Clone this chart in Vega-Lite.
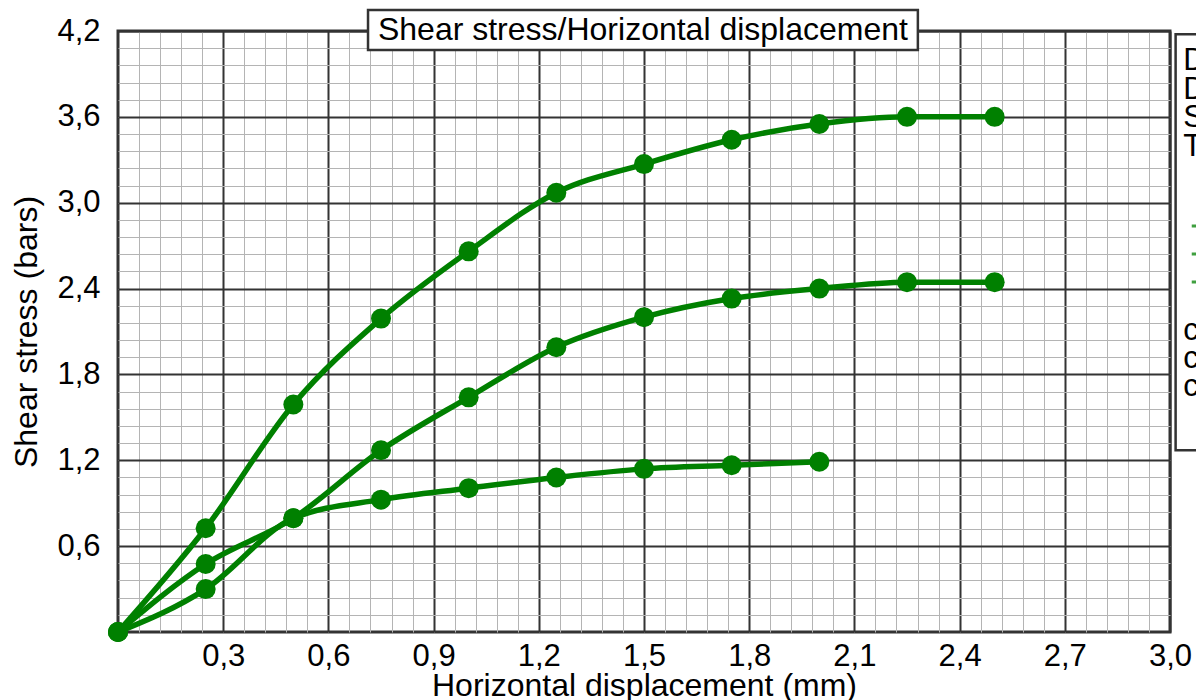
{
  "$schema": "https://vega.github.io/schema/vega-lite/v6.json",
  "width": 1052,
  "height": 601,
  "autosize": {"type": "none"},
  "padding": {"left": 118, "top": 31, "right": 26, "bottom": 68},
  "background": "white",
  "config": {
    "font": "Liberation Sans",
    "view": {"stroke": "#333333", "strokeWidth": 3},
    "axis": {
      "labelFont": "Liberation Sans",
      "titleFont": "Liberation Sans",
      "labelColor": "#000000",
      "titleColor": "#000000",
      "labelFontSize": 31,
      "titleFontSize": 32,
      "titleFontWeight": "normal",
      "ticks": false,
      "domain": false,
      "labelFlush": false,
      "labelOverlap": false,
      "labelBound": false
    }
  },
  "datasets": {
    "readings": [
      {"series": "A", "x": 0, "y": 0},
      {"series": "A", "x": 0.25, "y": 0.725},
      {"series": "A", "x": 0.5, "y": 1.59},
      {"series": "A", "x": 0.75, "y": 2.19},
      {"series": "A", "x": 1.0, "y": 2.66},
      {"series": "A", "x": 1.25, "y": 3.07},
      {"series": "A", "x": 1.5, "y": 3.27},
      {"series": "A", "x": 1.75, "y": 3.44},
      {"series": "A", "x": 2.0, "y": 3.55},
      {"series": "A", "x": 2.25, "y": 3.6},
      {"series": "A", "x": 2.5, "y": 3.6},
      {"series": "B", "x": 0, "y": 0},
      {"series": "B", "x": 0.25, "y": 0.475},
      {"series": "B", "x": 0.5, "y": 0.795},
      {"series": "B", "x": 0.75, "y": 1.27},
      {"series": "B", "x": 1.0, "y": 1.64},
      {"series": "B", "x": 1.25, "y": 1.99},
      {"series": "B", "x": 1.5, "y": 2.2},
      {"series": "B", "x": 1.75, "y": 2.33},
      {"series": "B", "x": 2.0, "y": 2.4},
      {"series": "B", "x": 2.25, "y": 2.445},
      {"series": "B", "x": 2.5, "y": 2.445},
      {"series": "C", "x": 0, "y": 0},
      {"series": "C", "x": 0.25, "y": 0.3},
      {"series": "C", "x": 0.5, "y": 0.795},
      {"series": "C", "x": 0.75, "y": 0.925},
      {"series": "C", "x": 1.0, "y": 1.005},
      {"series": "C", "x": 1.25, "y": 1.08},
      {"series": "C", "x": 1.5, "y": 1.14},
      {"series": "C", "x": 1.75, "y": 1.165},
      {"series": "C", "x": 2.0, "y": 1.19}
    ],
    "one": [{}]
  },
  "layer": [
    {
      "data": {"name": "readings"},
      "mark": {"type": "line", "color": "#008000", "strokeWidth": 5.5, "interpolate": "monotone"},
      "encoding": {
        "x": {
          "field": "x", "type": "quantitative",
          "scale": {"domain": [0, 3], "nice": false, "zero": false},
          "axis": {
            "orient": "bottom",
            "values": [0.06,0.12,0.18,0.24,0.3,0.36,0.42,0.48,0.54,0.6,0.66,0.72,0.78,0.84,0.9,0.96,1.02,1.08,1.14,1.2,1.26,1.32,1.38,1.44,1.5,1.56,1.62,1.68,1.74,1.8,1.86,1.92,1.98,2.04,2.1,2.16,2.22,2.28,2.34,2.4,2.46,2.52,2.58,2.64,2.7,2.76,2.82,2.88,2.94],
            "grid": true, "gridColor": "#b4b4b4", "gridWidth": 1,
            "labels": false, "title": null
          }
        },
        "y": {
          "field": "y", "type": "quantitative",
          "scale": {"domain": [0, 4.2], "nice": false, "zero": false},
          "axis": {
            "orient": "left",
            "values": [0.12,0.24,0.36,0.48,0.6,0.72,0.84,0.96,1.08,1.2,1.32,1.44,1.56,1.68,1.8,1.92,2.04,2.16,2.28,2.4,2.52,2.64,2.76,2.88,3.0,3.12,3.24,3.36,3.48,3.6,3.72,3.84,3.96,4.08],
            "grid": true, "gridColor": "#b4b4b4", "gridWidth": 1,
            "labels": false, "title": null
          }
        },
        "detail": {"field": "series", "type": "nominal"}
      }
    },
    {
      "data": {"name": "readings"},
      "mark": {"type": "point", "filled": true, "color": "#008000", "size": 400, "opacity": 1},
      "encoding": {
        "x": {
          "field": "x", "type": "quantitative",
          "scale": {"domain": [0, 3], "nice": false, "zero": false},
          "axis": {
            "orient": "bottom",
            "values": [0.3,0.6,0.9,1.2,1.5,1.8,2.1,2.4,2.7,3.0],
            "grid": true, "gridColor": "#333333", "gridWidth": 2,
            "labelPadding": 9,
            "labelExpr": "replace(format(datum.value, '.1f'), '.', ',')",
            "title": "Horizontal displacement (mm)",
            "titleBaseline": "alphabetic",
            "titleY": 63
          }
        },
        "y": {
          "field": "y", "type": "quantitative",
          "scale": {"domain": [0, 4.2], "nice": false, "zero": false},
          "axis": {
            "orient": "left",
            "values": [0.6,1.2,1.8,2.4,3.0,3.6,4.2],
            "grid": true, "gridColor": "#333333", "gridWidth": 2,
            "labelPadding": 18,
            "labelExpr": "replace(format(datum.value, '.1f'), '.', ',')",
            "title": "Shear stress (bars)",
            "titleBaseline": "alphabetic",
            "titleX": -82
          }
        }
      }
    },
    {
      "data": {"name": "one"},
      "mark": {"type": "rect", "fill": "white", "stroke": "#333333", "strokeWidth": 2.5},
      "encoding": {
        "x": {"datum": 0.713, "type": "quantitative", "scale": {"domain": [0, 3], "nice": false, "zero": false}, "axis": null},
        "x2": {"datum": 2.281},
        "y": {"datum": 4.347, "type": "quantitative", "scale": {"domain": [0, 4.2], "nice": false, "zero": false}, "axis": null},
        "y2": {"datum": 4.067}
      }
    },
    {
      "data": {"name": "one"},
      "mark": {"type": "text", "text": "Shear stress/Horizontal displacement", "font": "Liberation Sans", "fontSize": 32, "color": "#000000", "align": "center", "baseline": "middle"},
      "encoding": {
        "x": {"datum": 1.497, "type": "quantitative", "scale": {"domain": [0, 3], "nice": false, "zero": false}, "axis": null},
        "y": {"datum": 4.205, "type": "quantitative", "scale": {"domain": [0, 4.2], "nice": false, "zero": false}, "axis": null}
      }
    },
    {
      "data": {"name": "one"},
      "mark": {"type": "rect", "fill": "white", "stroke": "#333333", "strokeWidth": 2.5},
      "encoding": {
        "x": {"datum": 3.016, "type": "quantitative", "scale": {"domain": [0, 3], "nice": false, "zero": false}, "axis": null},
        "x2": {"datum": 3.7},
        "y": {"datum": 4.178, "type": "quantitative", "scale": {"domain": [0, 4.2], "nice": false, "zero": false}, "axis": null},
        "y2": {"datum": 1.27}
      }
    },
    {
      "data": {"name": "one"},
      "mark": {"type": "text", "text": ["Date:", "Depth:", "Sample:", "Test:"], "lineHeight": 28.5, "font": "Liberation Sans", "fontSize": 31, "color": "#000000", "align": "left", "baseline": "alphabetic"},
      "encoding": {
        "x": {"datum": 3.038, "type": "quantitative", "scale": {"domain": [0, 3], "nice": false, "zero": false}, "axis": null},
        "y": {"datum": 3.927, "type": "quantitative", "scale": {"domain": [0, 4.2], "nice": false, "zero": false}, "axis": null}
      }
    },
    {
      "data": {"name": "one"},
      "mark": {"type": "rule", "color": "#40a040", "strokeWidth": 3},
      "encoding": {
        "x": {"datum": 3.062, "type": "quantitative", "scale": {"domain": [0, 3], "nice": false, "zero": false}, "axis": null},
        "x2": {"datum": 3.3},
        "y": {"datum": 2.837, "type": "quantitative", "scale": {"domain": [0, 4.2], "nice": false, "zero": false}, "axis": null}
      }
    },
    {
      "data": {"name": "one"},
      "mark": {"type": "rule", "color": "#40a040", "strokeWidth": 3},
      "encoding": {
        "x": {"datum": 3.062, "type": "quantitative", "scale": {"domain": [0, 3], "nice": false, "zero": false}, "axis": null},
        "x2": {"datum": 3.3},
        "y": {"datum": 2.641, "type": "quantitative", "scale": {"domain": [0, 4.2], "nice": false, "zero": false}, "axis": null}
      }
    },
    {
      "data": {"name": "one"},
      "mark": {"type": "rule", "color": "#40a040", "strokeWidth": 3},
      "encoding": {
        "x": {"datum": 3.062, "type": "quantitative", "scale": {"domain": [0, 3], "nice": false, "zero": false}, "axis": null},
        "x2": {"datum": 3.3},
        "y": {"datum": 2.446, "type": "quantitative", "scale": {"domain": [0, 4.2], "nice": false, "zero": false}, "axis": null}
      }
    },
    {
      "data": {"name": "one"},
      "mark": {"type": "text", "text": ["c =", "c =", "c ="], "lineHeight": 28, "font": "Liberation Sans", "fontSize": 31, "color": "#000000", "align": "left", "baseline": "alphabetic"},
      "encoding": {
        "x": {"datum": 3.038, "type": "quantitative", "scale": {"domain": [0, 3], "nice": false, "zero": false}, "axis": null},
        "y": {"datum": 2.04, "type": "quantitative", "scale": {"domain": [0, 4.2], "nice": false, "zero": false}, "axis": null}
      }
    }
  ],
  "resolve": {"axis": {"x": "independent", "y": "independent"}}
}
